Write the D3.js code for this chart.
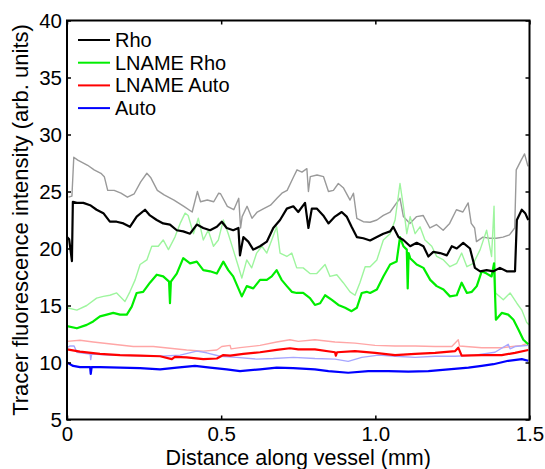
<!DOCTYPE html>
<html lang="en">
  <head>
    <meta charset="UTF-8" />
    <title>Tracer fluorescence along vessel</title>
    <style>
      body {
        margin: 0;
        overflow: hidden;
        background: #fff;
      }
      svg text {
        font-family: "Liberation Sans", Arial, sans-serif;
        fill: #000;
      }
      .tick text {
        font-size: 20.5px;
      }
      .tick line {
        stroke: #000;
        stroke-width: 1.5px;
      }
      .domain {
        display: none;
      }
    </style>
    <script src="https://unpkg.com/d3@7.8.1/dist/d3.min.js"></script>
  </head>
  <body>
    <script>
      const { select, scaleLinear, axisLeft, axisBottom, axisTop, axisRight, line } = d3;

//Data: [distance (mm), intensity]
      const rhoFaded = [
        [0.005, 24.5], [0.016, 24.6], [0.022, 28.0], [0.035, 27.75], [0.067, 27.3], [0.088, 26.9],
        [0.110, 26.6], [0.121, 26.3], [0.132, 25.1], [0.153, 25.1], [0.175, 24.85], [0.196, 24.5],
        [0.218, 24.8], [0.239, 25.85], [0.259, 26.6], [0.272, 26.2], [0.293, 25.1], [0.315, 24.7],
        [0.347, 24.25], [0.379, 23.7], [0.406, 23.2], [0.423, 25.0], [0.433, 24.1], [0.455, 24.25],
        [0.476, 24.1], [0.492, 24.85], [0.498, 24.8], [0.520, 23.7], [0.541, 23.4], [0.557, 24.4],
        [0.563, 21.8], [0.568, 22.8], [0.584, 23.7], [0.600, 22.65], [0.617, 23.2], [0.638, 23.5],
        [0.660, 23.8], [0.681, 24.4], [0.697, 24.85], [0.714, 25.1], [0.735, 26.3], [0.746, 26.9],
        [0.762, 26.7], [0.778, 27.0], [0.783, 25.0], [0.789, 26.3], [0.811, 26.45], [0.832, 26.3],
        [0.848, 25.0], [0.864, 25.1], [0.880, 25.7], [0.897, 25.3], [0.918, 24.25], [0.929, 24.85],
        [0.940, 22.65], [0.961, 22.35], [0.983, 22.3], [1.005, 22.5], [1.026, 22.9], [1.048, 23.2],
        [1.069, 24.0], [1.080, 24.4], [1.091, 22.8], [1.112, 22.2], [1.134, 22.8], [1.155, 22.9],
        [1.177, 21.8], [1.198, 22.1], [1.220, 21.6], [1.241, 22.2], [1.263, 23.4], [1.284, 23.2],
        [1.301, 24.0], [1.311, 22.2], [1.322, 21.8], [1.328, 20.6], [1.349, 21.0], [1.371, 20.9],
        [1.392, 20.9], [1.414, 21.0], [1.435, 21.2], [1.452, 21.8], [1.457, 26.9], [1.473, 27.75],
        [1.484, 28.3], [1.495, 27.2]
      ];
      const rho = [
        [0.000, 21.0], [0.007, 20.8], [0.016, 18.9], [0.019, 24.1], [0.032, 24.0], [0.053, 24.0],
        [0.075, 23.8], [0.096, 23.4], [0.118, 23.1], [0.139, 22.35], [0.161, 22.35], [0.183, 22.2],
        [0.204, 21.9], [0.226, 22.8], [0.253, 23.4], [0.269, 22.9], [0.291, 22.5], [0.312, 22.2],
        [0.334, 22.1], [0.356, 21.6], [0.377, 21.5], [0.399, 21.3], [0.421, 22.1], [0.442, 21.8],
        [0.464, 21.6], [0.486, 21.9], [0.502, 22.35], [0.518, 21.8], [0.539, 21.6], [0.556, 21.8],
        [0.561, 19.4], [0.572, 21.0], [0.588, 20.6], [0.604, 19.9], [0.626, 20.2], [0.648, 20.6],
        [0.669, 21.8], [0.691, 22.5], [0.713, 23.5], [0.734, 23.7], [0.750, 23.2], [0.772, 24.0],
        [0.783, 21.8], [0.794, 23.5], [0.810, 23.5], [0.831, 22.9], [0.848, 22.2], [0.869, 22.8],
        [0.891, 23.2], [0.907, 22.8], [0.923, 21.9], [0.940, 21.0], [0.961, 20.9], [0.983, 20.7],
        [1.005, 21.0], [1.026, 21.3], [1.048, 21.5], [1.058, 21.9], [1.075, 21.0], [1.091, 20.75],
        [1.113, 20.2], [1.134, 20.5], [1.156, 20.2], [1.172, 19.3], [1.188, 19.7], [1.210, 19.6],
        [1.232, 19.4], [1.248, 20.2], [1.264, 20.0], [1.285, 20.5], [1.307, 20.0], [1.323, 18.3],
        [1.340, 18.0], [1.361, 18.1], [1.383, 18.0], [1.404, 18.3], [1.426, 18.0], [1.453, 18.0],
        [1.459, 22.5], [1.475, 23.4], [1.486, 23.1], [1.496, 22.5]
      ];
      const lnameRhoFaded = [
        [0.000, 14.8], [0.032, 14.6], [0.064, 15.0], [0.096, 15.65], [0.118, 15.8], [0.139, 15.9],
        [0.161, 16.1], [0.188, 15.35], [0.204, 16.2], [0.221, 17.25], [0.237, 18.6], [0.259, 19.0],
        [0.275, 20.2], [0.296, 20.2], [0.312, 20.75], [0.329, 19.9], [0.350, 21.0], [0.367, 22.2],
        [0.383, 23.1], [0.393, 22.9], [0.410, 21.3], [0.426, 22.65], [0.442, 20.75], [0.458, 21.6],
        [0.475, 20.2], [0.491, 20.75], [0.507, 22.5], [0.523, 21.3], [0.539, 19.9], [0.556, 18.4],
        [0.567, 17.4], [0.583, 19.0], [0.599, 18.3], [0.615, 19.6], [0.632, 20.2], [0.648, 19.6],
        [0.664, 20.75], [0.680, 21.9], [0.691, 19.6], [0.713, 19.3], [0.729, 19.6], [0.745, 18.3],
        [0.766, 18.3], [0.788, 17.8], [0.810, 17.8], [0.837, 18.6], [0.853, 17.55], [0.875, 17.7],
        [0.896, 17.0], [0.918, 16.2], [0.934, 15.9], [0.950, 17.0], [0.967, 18.4], [0.983, 18.4],
        [1.005, 19.0], [1.026, 20.75], [1.048, 21.3], [1.064, 22.5], [1.080, 25.7], [1.091, 23.7],
        [1.102, 21.3], [1.113, 22.8], [1.129, 21.3], [1.145, 21.9], [1.161, 20.75], [1.183, 20.2],
        [1.199, 19.3], [1.221, 19.0], [1.242, 18.4], [1.264, 18.7], [1.280, 19.6], [1.297, 18.4],
        [1.318, 18.7], [1.340, 19.9], [1.361, 21.6], [1.377, 19.3], [1.385, 23.7], [1.390, 16.1],
        [1.415, 15.5], [1.437, 16.1], [1.459, 15.2], [1.475, 14.6], [1.491, 13.5], [1.499, 13.3]
      ];
      const lnameRho = [
        [0.000, 13.2], [0.032, 13.0], [0.064, 13.3], [0.085, 13.6], [0.107, 14.05], [0.129, 14.2],
        [0.150, 14.35], [0.172, 14.2], [0.194, 14.2], [0.210, 14.9], [0.226, 16.1], [0.247, 16.2],
        [0.269, 17.0], [0.291, 17.7], [0.312, 17.55], [0.331, 17.1], [0.334, 15.2], [0.337, 17.1],
        [0.356, 17.8], [0.377, 19.15], [0.399, 18.7], [0.421, 18.85], [0.442, 18.1], [0.464, 18.0],
        [0.486, 17.8], [0.507, 18.85], [0.523, 18.1], [0.539, 17.55], [0.567, 15.8], [0.583, 16.7],
        [0.604, 16.5], [0.626, 17.25], [0.648, 17.25], [0.664, 17.55], [0.680, 18.1], [0.696, 17.25],
        [0.713, 16.7], [0.729, 16.2], [0.745, 16.1], [0.766, 16.1], [0.788, 15.65], [0.804, 15.05],
        [0.821, 15.2], [0.837, 15.9], [0.859, 15.5], [0.880, 15.05], [0.902, 14.8], [0.923, 14.5],
        [0.940, 14.8], [0.956, 16.1], [0.972, 16.2], [0.983, 16.1], [1.005, 16.4], [1.026, 17.55],
        [1.048, 18.6], [1.069, 18.85], [1.080, 21.0], [1.091, 20.2], [1.102, 19.9], [1.105, 16.5],
        [1.108, 19.6], [1.113, 19.15], [1.134, 18.6], [1.156, 18.3], [1.178, 17.25], [1.199, 16.7],
        [1.221, 16.4], [1.242, 15.8], [1.264, 15.9], [1.280, 17.0], [1.297, 16.1], [1.313, 16.2],
        [1.329, 16.7], [1.345, 18.0], [1.361, 17.8], [1.377, 17.55], [1.385, 18.7], [1.391, 13.75],
        [1.410, 14.35], [1.431, 14.2], [1.448, 13.75], [1.464, 12.9], [1.480, 12.0], [1.496, 11.6]
      ];
      const lnameAutoFaded = [
        [0.000, 11.85], [0.042, 11.95], [0.085, 11.8], [0.150, 11.6], [0.215, 11.4], [0.280, 11.4],
        [0.334, 11.25], [0.388, 11.1], [0.442, 11.0], [0.486, 11.1], [0.502, 11.4], [0.529, 11.5],
        [0.532, 11.2], [0.561, 11.3], [0.626, 11.5], [0.680, 11.8], [0.723, 12.0], [0.750, 11.85],
        [0.804, 12.0], [0.869, 11.8], [0.934, 11.7], [0.999, 11.5], [1.064, 11.45], [1.129, 11.45],
        [1.194, 11.4], [1.248, 11.4], [1.269, 12.0], [1.273, 11.45], [1.345, 11.3], [1.410, 11.3],
        [1.475, 11.5], [1.496, 11.7]
      ];
      const lnameAuto = [
        [0.000, 11.15], [0.042, 10.95], [0.107, 10.75], [0.172, 10.65], [0.237, 10.6], [0.302, 10.55],
        [0.340, 10.3], [0.350, 10.5], [0.388, 10.45], [0.442, 10.3], [0.486, 10.35], [0.507, 10.65],
        [0.529, 10.6], [0.572, 10.75], [0.626, 10.9], [0.680, 11.1], [0.723, 11.25], [0.750, 11.15],
        [0.804, 11.15], [0.869, 10.9], [0.872, 10.6], [0.876, 10.9], [0.934, 11.0], [0.999, 10.85],
        [1.064, 10.65], [1.129, 10.75], [1.194, 10.85], [1.259, 11.0], [1.269, 11.3], [1.280, 10.6],
        [1.345, 10.65], [1.410, 10.65], [1.453, 10.85], [1.496, 11.1]
      ];
      const autoFaded = [
        [0.000, 11.3], [0.010, 11.45], [0.023, 11.45], [0.032, 10.9], [0.075, 10.75], [0.077, 10.25],
        [0.080, 10.75], [0.139, 10.65], [0.215, 10.6], [0.302, 10.55], [0.367, 10.65], [0.421, 11.0],
        [0.453, 10.85], [0.496, 10.55], [0.550, 10.45], [0.615, 10.3], [0.669, 10.35], [0.734, 10.45],
        [0.804, 10.35], [0.869, 10.3], [0.912, 10.1], [0.956, 10.45], [1.010, 10.65], [1.064, 10.55],
        [1.129, 10.45], [1.194, 10.55], [1.259, 10.55], [1.323, 10.65], [1.388, 10.9], [1.431, 11.6],
        [1.437, 11.2], [1.453, 11.4], [1.496, 11.5]
      ];
      const auto = [
        [0.000, 10.0], [0.020, 9.7], [0.042, 9.6], [0.075, 9.6], [0.077, 9.0], [0.080, 9.6],
        [0.107, 9.6], [0.172, 9.55], [0.237, 9.5], [0.302, 9.4], [0.356, 9.55], [0.415, 9.7],
        [0.464, 9.55], [0.518, 9.4], [0.561, 9.25], [0.626, 9.4], [0.680, 9.55], [0.734, 9.5],
        [0.804, 9.4], [0.848, 9.25], [0.912, 9.1], [0.977, 9.25], [1.042, 9.25], [1.107, 9.2],
        [1.172, 9.25], [1.237, 9.4], [1.302, 9.55], [1.345, 9.7], [1.383, 9.85], [1.431, 10.15],
        [1.475, 10.3], [1.496, 10.15]
      ];

      const xTicks = [0, 0.5, 1.0, 1.5];
      const xTickLabels = ["0", "0.5", "1.0", "1.5"];
      const yTicks = [5, 10, 15, 20, 25, 30, 35, 40];
      const legendNames = ["Rho", "LNAME Rho", "LNAME Auto", "Auto"];
      const legendColors = ["#000000", "#00ee00", "#ff0000", "#0000ff"];

//Tweakable
      const margin = { top: 20.5, right: 15.5, bottom: 49.5, left: 67 };
      const width = 545;
      const height = 469;

      const svg = select("body")
        .append("svg")
        .attr("width", width)
        .attr("height", height);

      const x = scaleLinear()
        .domain([0, 1.5])
        .range([margin.left, width - margin.right]);

      const y = scaleLinear()
        .domain([5, 40])
        .range([height - margin.bottom, margin.top]);

      const lineGen = line()
        .x(d => x(d[0]))
        .y(d => y(d[1]));

      svg.append("clipPath")
        .attr("id", "plot")
        .append("rect")
        .attr("x", margin.left)
        .attr("y", margin.top)
        .attr("width", width - margin.left - margin.right)
        .attr("height", height - margin.top - margin.bottom);

      // faded traces first, then the main ones on top
      const series = [
        { data: rhoFaded, color: "#9a9a9a", w: 1.4 },
        { data: lnameRhoFaded, color: "#9ef59e", w: 1.4 },
        { data: lnameAutoFaded, color: "#ffa6a6", w: 1.4 },
        { data: autoFaded, color: "#a6a6ff", w: 1.4 },
        { data: auto, color: legendColors[3], w: 2.2 },
        { data: lnameAuto, color: legendColors[2], w: 2.2 },
        { data: lnameRho, color: legendColors[1], w: 2.2 },
        { data: rho, color: legendColors[0], w: 2.2 }
      ];

      svg.append("g")
        .attr("clip-path", "url(#plot)")
        .selectAll("path")
        .data(series)
        .enter()
        .append("path")
        .attr("d", d => lineGen(d.data))
        .attr("fill", "none")
        .attr("stroke", d => d.color)
        .attr("stroke-width", d => d.w)
        .attr("stroke-linejoin", "round");

//Axes (ticks point inward, like the box of the original)
      svg.append("g")
        .attr("transform", `translate(${margin.left}, 0)`)
        .call(axisLeft(y).tickValues(yTicks).tickSize(-4).tickPadding(5));

      svg.append("g")
        .attr("transform", `translate(0, ${height - margin.bottom})`)
        .call(axisBottom(x).tickValues(xTicks).tickFormat((d, i) => xTickLabels[i]).tickSize(-4).tickPadding(7));

      svg.append("g")
        .attr("transform", `translate(${width - margin.right}, 0)`)
        .call(axisRight(y).tickValues(yTicks).tickSize(-4).tickFormat(""));

      svg.append("g")
        .attr("transform", `translate(0, ${margin.top})`)
        .call(axisTop(x).tickValues(xTicks).tickSize(-4).tickFormat(""));

      svg.append("rect")
        .attr("x", margin.left)
        .attr("y", margin.top)
        .attr("width", width - margin.left - margin.right)
        .attr("height", height - margin.top - margin.bottom)
        .attr("fill", "none")
        .attr("stroke", "#000")
        .attr("stroke-width", 2);

      svg.append("text")
        .attr("x", (margin.left + width - margin.right) / 2)
        .attr("y", 465)
        .attr("text-anchor", "middle")
        .style("font-size", "21.5px")
        .text("Distance along vessel (mm)");

      svg.append("text")
        .attr("transform", `translate(28, ${(margin.top + height - margin.bottom) / 2}) rotate(-90)`)
        .attr("text-anchor", "middle")
        .style("font-size", "22px")
        .text("Tracer fluorescence intensity (arb. units)");

//Legend
      const legend = svg.append("g");
      const rows = legend.selectAll("g")
        .data(legendNames)
        .enter()
        .append("g")
        .attr("transform", (d, i) => `translate(78, ${40 + i * 22.7})`);

      rows.append("line")
        .attr("x1", 0)
        .attr("x2", 32)
        .attr("stroke", (d, i) => legendColors[i])
        .attr("stroke-width", 2);

      rows.append("text")
        .attr("x", 37)
        .attr("dy", "0.35em")
        .style("font-size", "20px")
        .text(d => d);
    </script>
  </body>
</html>
